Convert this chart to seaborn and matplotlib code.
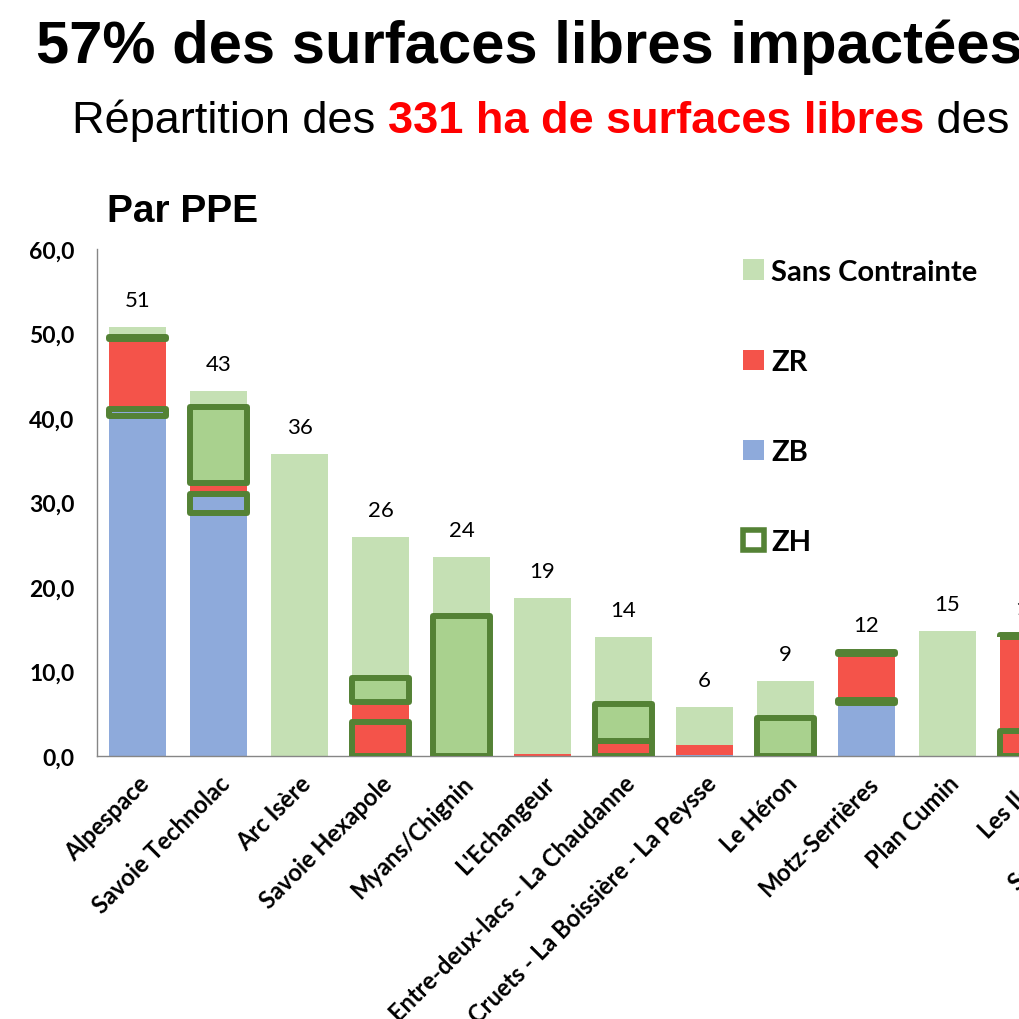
import numpy as np
import pandas as pd
import matplotlib
matplotlib.use("Agg")
import matplotlib.pyplot as plt
from matplotlib.patches import Patch
from matplotlib import font_manager
import seaborn as sns

# ----------------------------------------
# Data (ha of free surfaces per PPE)
# ----------------------------------------

ppe = ["Alpespace", "Savoie Technolac", "Arc Isère", "Savoie Hexapole",
       "Myans/Chignin", "L'Echangeur", "Entre-deux-lacs - La Chaudanne",
       "Les Cruets - La Boissière - La Peysse", "Le Héron", "Motz-Serrières",
       "Plan Cumin", "Les Iles", "Sainte-Hélène"]

zb    = [40.2, 28.8, 0.0, 0.0, 0.0, 0.0, 0.0, 0.15, 0.0, 6.3, 0.0, 0.0, 0.0]
zb_zh = [0.9, 2.2, 0.0, 0.0, 0.0, 0.0, 0.0, 0.0, 0.0, 0.3, 0.0, 0.0, 0.0]
zr_zh = [0.0, 0.0, 0.0, 4.0, 0.0, 0.0, 1.8, 0.0, 0.0, 0.0, 0.0, 3.0, 0.0]
zr    = [8.2, 1.3, 0.0, 2.4, 0.0, 0.2, 0.0, 1.1, 0.0, 5.5, 0.0, 11.1, 0.0]
sc_zh = [0.3, 9.0, 0.0, 2.8, 16.6, 0.0, 4.4, 0.0, 4.5, 0.2, 0.0, 0.2, 0.0]
sc    = [1.2, 1.9, 35.7, 16.7, 7.0, 18.5, 7.9, 4.6, 4.4, 0.0, 14.8, 0.0, 0.0]

legend_labels = ["Sans Contrainte", "ZR", "ZB", "ZH"]

# ----------------------------------------
# Style
# ----------------------------------------

c_sc = "#c5e0b4"
c_zr = "#f4534a"
c_zb = "#8eaadb"
c_zh = "#a9d18e"
c_zh_edge = "#548235"
c_axis = "#868686"

sns.set_style("white")
avail = {f.name for f in font_manager.fontManager.ttflist}
chart_font = "Lato" if "Lato" in avail else "DejaVu Sans"
plt.rcParams["font.family"] = [chart_font, "DejaVu Sans"]
plt.rcParams["text.color"] = "black"
plt.rcParams["xtick.labelcolor"] = "black"
plt.rcParams["ytick.labelcolor"] = "black"

fig = plt.figure(figsize=(10.2, 10.2), dpi=100)
n = len(ppe)
cat_px = 81.0
ax = fig.add_axes([97 / 1020, 1 - 757 / 1020, n * cat_px / 1020, 507 / 1020])

# ----------------------------------------
# Stacked fills (drawn top-down as cumulative heights)
# ----------------------------------------

layers = [zb, zb_zh, zr_zh, zr, sc_zh, sc]
fills = [c_zb, c_zb, c_zr, c_zr, c_zh, c_sc]
cum = np.cumsum(np.array(layers), axis=0)
df = pd.DataFrame(cum.T, columns=["zb", "zb_zh", "zr_zh", "zr", "sc_zh", "sc"])
df["ppe"] = ppe

for k in range(len(layers) - 1, -1, -1):
    sns.barplot(data=df, x="ppe", y=df.columns[k], order=ppe, color=fills[k],
                saturation=1, width=0.7, linewidth=0, ax=ax, zorder=2)

# ZH outlines
x = np.arange(n)
for k in [1, 2, 4]:
    vals = np.array(layers[k])
    bottoms = cum[k] - vals
    m = vals > 0
    ax.bar(x[m], vals[m], bottom=bottoms[m], width=0.7, fill=False,
           edgecolor=c_zh_edge, linewidth=4.3, joinstyle="round", zorder=3)

# totals above bars
totals = cum[-1]
for i, t in enumerate(totals):
    if t > 0:
        ax.text(i, t + 3.2, f"{round(t)}", ha="center", va="center",
                fontsize=16, color="black")

# ----------------------------------------
# Axes
# ----------------------------------------

ax.set_xlim(-0.5, n - 0.5)
ax.set_ylim(0, 60)
ax.set_yticks(np.arange(0, 61, 10))
ax.set_yticklabels([f"{v:.1f}".replace(".", ",") for v in np.arange(0, 61, 10)],
                   fontsize=16.5, fontweight="bold")
ax.set_xticks(x)
ax.set_xticklabels(ppe, rotation=45, ha="right", rotation_mode="anchor",
                   fontsize=17, fontweight="bold")
ax.set_xticks(np.arange(-0.5, n, 1), minor=True)
ax.tick_params(axis="x", which="major", length=0, pad=11)
ax.tick_params(axis="x", which="minor", length=7, color=c_axis, direction="out")
ax.tick_params(axis="y", length=7, color=c_axis, direction="out", pad=9)
ax.set_xlabel("")
ax.set_ylabel("")
for s in ["top", "right"]:
    ax.spines[s].set_visible(False)
for s in ["left", "bottom"]:
    ax.spines[s].set_color(c_axis)
    ax.spines[s].set_linewidth(1)

handles = [Patch(facecolor=c_sc, edgecolor="none"),
           Patch(facecolor=c_zr, edgecolor="none"),
           Patch(facecolor=c_zb, edgecolor="none"),
           Patch(facecolor="white", edgecolor=c_zh_edge, linewidth=4)]
fig.legend(handles, legend_labels, loc="upper left", bbox_to_anchor=(0.703, 0.771),
           frameon=False, prop={"weight": "bold", "size": 21},
           handlelength=0.7, handleheight=0.7, handletextpad=0.25, labelspacing=2.2)

# ----------------------------------------
# Titles
# ----------------------------------------

fig.text(36 / 1020, 1 - 63 / 1020, "57% des surfaces libres impactées",
         fontsize=43, fontweight="bold", family="Liberation Sans",
         va="baseline", ha="left", color="black")
fig.text(107 / 1020, 1 - 222 / 1020, "Par PPE", fontsize=28, fontweight="bold",
         family="Liberation Sans", va="baseline", ha="left", color="black")

pieces = [("Répartition des ", "black", "normal"),
          ("331 ha de surfaces libres", "#ff0000", "bold"),
          (" des", "black", "normal")]
fig.canvas.draw()
renderer = fig.canvas.get_renderer()
xpos = 72 / 1020
for txt, col, wt in pieces:
    t = fig.text(xpos, 1 - 133 / 1020, txt, fontsize=32.5, fontweight=wt, color=col,
                 family="Liberation Sans", va="baseline", ha="left")
    bb = t.get_window_extent(renderer=renderer)
    xpos += bb.width / fig.bbox.width

fig.savefig("out.png", dpi=100)
